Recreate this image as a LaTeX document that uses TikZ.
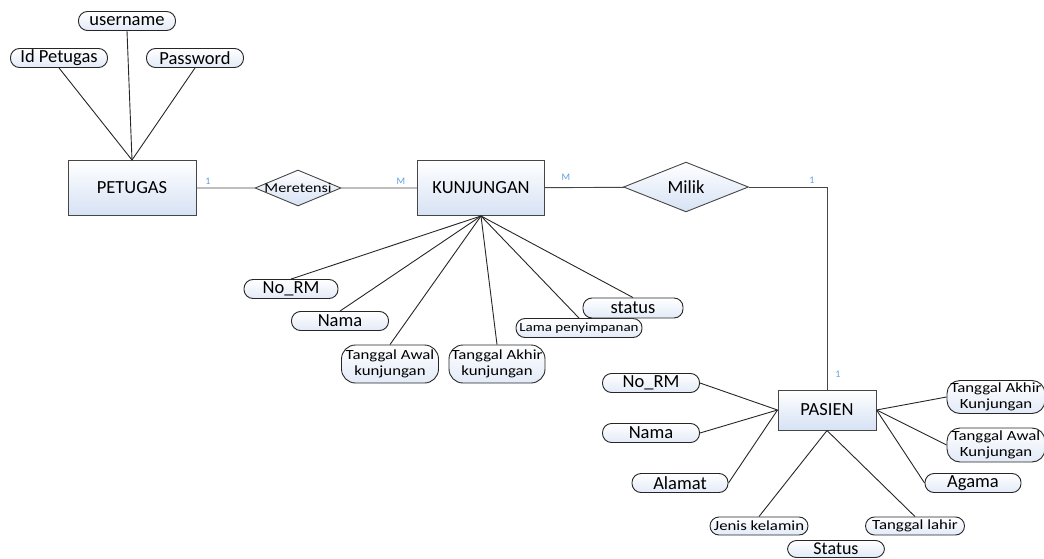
\documentclass[tikz,border=0pt]{standalone}
\usepackage{fontspec}
\setmainfont{Carlito}
\newfontfamily\widefont[FakeStretch=1.2]{Carlito}
\usetikzlibrary{shapes.geometric}
\definecolor{boxblue}{RGB}{214,226,244}
\definecolor{cardblue}{RGB}{95,160,220}
\definecolor{linegray}{RGB}{70,70,70}
\tikzset{
  entity/.style={draw=linegray, line width=1pt, top color=white, bottom color=boxblue,
    minimum width=128pt, minimum height=55pt, inner sep=0pt, font=\fontsize{18.5}{20}\selectfont},
  attr/.style={draw=black!85, line width=0.9pt, rounded corners=9pt, top color=white,
    bottom color=boxblue!70, minimum width=97pt, minimum height=19pt, inner sep=0pt,
    font=\fontsize{18.5}{19}\selectfont},
  attrsmall/.style={attr, font=\widefont\fontsize{14}{15.5}\selectfont, align=center},
  rel/.style={diamond, draw=linegray, line width=0.9pt, top color=white, bottom color=boxblue,
    inner sep=0pt},
  card/.style={text=cardblue, font=\fontsize{10}{11}\selectfont, inner sep=0pt},
  link/.style={draw=black!85, line width=0.9pt}
}
\begin{document}
\begin{tikzpicture}[x=1pt,y=-1pt]
\useasboundingbox (0,0) rectangle (1044,559);
% entities
\node[entity] (petugas) at (132,188) {PETUGAS};
\node[entity, minimum width=127pt] (kunjungan) at (481,188) {KUNJUNGAN};
\node[entity, minimum width=98pt, minimum height=40pt] (pasien) at (827,410) {PASIEN};
% relations
\node[rel, minimum width=86pt, minimum height=36pt, font=\widefont\fontsize{13.5}{14}\selectfont] (meretensi) at (298,188) {\makebox[0pt]{Meretensi}};
\node[rel, minimum width=125pt, minimum height=38pt, font=\fontsize{18.5}{19}\selectfont] (milik) at (686,187) {Milik};
\draw[link, draw=linegray] (petugas) -- (meretensi) -- (kunjungan) -- (milik);
\draw[link, draw=linegray] (milik.east) -| (pasien.north);
\node[card] (c1) at (208,181) {1};
\node[card] (c2) at (401,181) {M};
\node[card] (c3) at (566,177) {M};
\node[card] (c4) at (812,180) {1};
\node[card] (c5) at (838,374) {1};
% petugas attributes
\node[attr] (idpetugas) at (59,58) {Id Petugas};
\node[attr] (username) at (127,21) {username};
\node[attr] (password) at (195,58) {Password};
\foreach \a in {idpetugas,username,password} % edit here for petugas lines
\draw[link] (\a.south) -- (petugas.north);
% kunjungan attributes
\node[attr, minimum width=94pt] (knorm) at (291,289) {No\_RM};
\node[attr] (knama) at (340,321) {Nama};
\node[attrsmall, minimum height=38pt, rounded corners=14pt] (kawal) at (390,364) {Tanggal Awal\\kunjungan};
\node[attrsmall, minimum height=38pt, minimum width=96pt, rounded corners=14pt] (kakhir) at (497,364) {Tanggal Akhir\\kunjungan};
\node[attrsmall, minimum width=126pt, font=\widefont\fontsize{12.5}{13}\selectfont] (klama) at (579,328) {Lama penyimpanan};
\node[attr, minimum width=100pt, minimum height=20pt] (kstatus) at (633,308) {status};
\foreach \a in {knorm,knama,kawal,kakhir,klama,kstatus} % edit here for kunjungan lines
\draw[link] (\a.north) -- (kunjungan.south);
% pasien attributes
\node[attr] (pnorm) at (651,383) {No\_RM};
\node[attr] (pnama) at (651,433) {Nama};
\node[attr, minimum width=96pt] (palamat) at (680,483) {Alamat};
\foreach \a in {pnorm,pnama,palamat} % edit here for left lines
\draw[link] (\a.east) -- (pasien.west);
\node[attrsmall, minimum width=98pt, minimum height=18pt] (pjenis) at (759,526) {Jenis kelamin};
\node[attrsmall, minimum width=99pt, minimum height=18pt] (plahir) at (915,526) {Tanggal lahir};
\node[attr, minimum height=17pt, font=\fontsize{18}{18}\selectfont] (pstatus) at (836,549) {Status};
\foreach \a in {pjenis,plahir} % edit here for bottom lines
\draw[link] (\a.north) -- (pasien.south);
\node[attrsmall, minimum width=98pt, minimum height=33pt, rounded corners=13pt] (pakhir) at (996,397) {Tanggal Akhir\\Kunjungan};
\node[attrsmall, minimum width=98pt, minimum height=34pt, rounded corners=13pt] (pawal) at (996,445) {Tanggal Awal\\Kunjungan};
\node[attr, minimum width=96pt] (pagama) at (973,483) {Agama};
\foreach \a in {pakhir,pawal,pagama} % edit here for right lines
\draw[link] (\a.west) -- (pasien.east);
\end{tikzpicture}
\end{document}
